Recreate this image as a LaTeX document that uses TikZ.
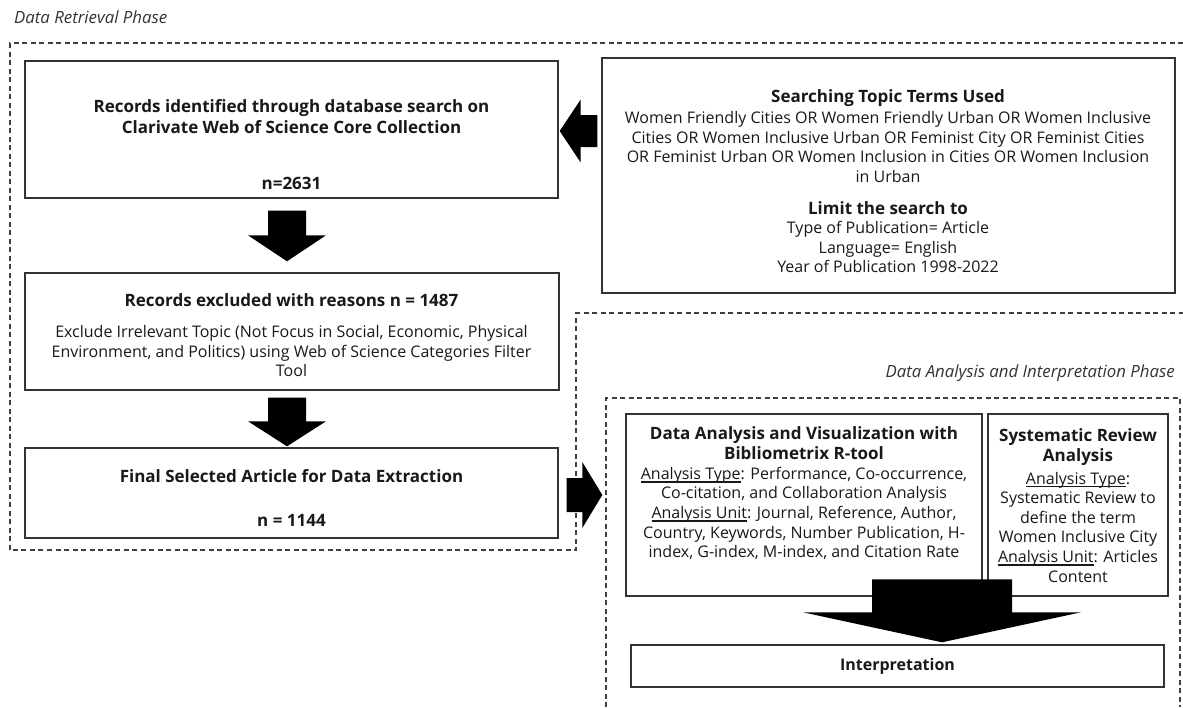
\documentclass[tikz,border=0pt]{standalone}
\usepackage{fontspec}
\setmainfont{Open Sans}
\usetikzlibrary{calc}

% heavy underline for the "Analysis ..." captions
\newsavebox{\ulbox}
\newcommand{\heavyul}[1]{\sbox{\ulbox}{#1}\rlap{\rule[-3.2pt]{\wd\ulbox}{1.5pt}}\usebox{\ulbox}}

\tikzset{
  phase/.style={draw=black!75, line width=1.1pt, dash pattern=on 5pt off 3.5pt},
  box/.style={draw=black!80, line width=1.4pt, fill=white, inner sep=0pt},
  txt/.style={text=black!90, inner sep=0pt, align=center},
  body/.style={txt, font=\fontsize{16}{19.6}\selectfont},
  head/.style={txt, font=\bfseries\fontsize{17}{20.5}\selectfont},
  blockarrow/.style={fill=black, draw=none},
  phaselabel/.style={text=black!80, inner sep=0pt, font=\itshape\fontsize{16.8}{18}\selectfont},
}

\begin{document}
\begin{tikzpicture}[x=1pt, y=-1pt]
\useasboundingbox (0,0) rectangle (1183,707);

% phase outlines
\draw[phase] (1183,43) -- (10,43) -- (10,550) -- (576,550) -- (576,313) -- (1183,313);
\draw[phase] (606,707) -- (606,398) -- (1180,398) -- (1180,707);

\node[phaselabel, anchor=west] (lblret) at (14,17) {Data Retrieval Phase};
\node[phaselabel, anchor=east] (lblana) at (1175,373) {Data Analysis and Interpretation Phase};

% retrieval boxes
\node[box, minimum width=533, minimum height=137] (rid) at (291.5,129.5) {};
\node[box, minimum width=573, minimum height=235] (search) at (888.5,175.5) {};
\node[box, minimum width=534, minimum height=117] (rex) at (292,331.5) {};
\node[box, minimum width=533, minimum height=90] (final) at (291.5,493) {};

% analysis boxes
\node[box, minimum width=356, minimum height=182] (ana) at (804,505) {};
\node[box, minimum width=180, minimum height=182] (sys) at (1078,505) {};
\node[box, minimum width=533, minimum height=42] (interp) at (897.5,666) {};

% texts
\node[head] (ridt) at (291.5,116.5) {Records identified through database search on\\Clarivate Web of Science Core Collection};
\node[head] (ridn) at (291.5,183) {n=2631};

\node[head] (srt) at (888,98) {Searching Topic Terms Used};
\node[body] (srb) at (888,147) {Women Friendly Cities OR Women Friendly Urban OR Women Inclusive\\
Cities OR Women Inclusive Urban OR Feminist City OR Feminist Cities\\
OR Feminist Urban OR Women Inclusion in Cities OR Women Inclusion\\
in Urban};
\node[head] (slt) at (888,208) {Limit the search to};
\node[body] (slb) at (888,247) {Type of Publication= Article\\Language= English\\Year of Publication 1998-2022};

\node[head] (rext) at (291.5,300) {Records excluded with reasons n = 1487};
\node[body] (rexb) at (291.5,351) {Exclude Irrelevant Topic (Not Focus in Social, Economic, Physical\\
Environment, and Politics) using Web of Science Categories Filter\\Tool};

\node[head] (fint) at (291.5,476) {Final Selected Article for Data Extraction};
\node[head] (finn) at (291.5,520) {n = 1144};

\node[head] (anat) at (804,443) {Data Analysis and Visualization with\\Bibliometrix R-tool};
\node[body] (anab) at (804,513.5) {\heavyul{Analysis Type}: Performance, Co-occurrence,\\
Co-citation, and Collaboration Analysis\\
\heavyul{Analysis Unit}: Journal, Reference, Author,\\
Country, Keywords, Number Publication, H-\\
index, G-index, M-index, and Citation Rate};

\node[head] (syst) at (1078,447) {Systematic Review\\Analysis};
\node[body] (sysb) at (1078,527) {\heavyul{Analysis Type}:\\Systematic Review to\\define the term\\Women Inclusive City\\
\heavyul{Analysis Unit}: Articles\\Content};

\node[head, font=\bfseries\fontsize{16}{20}\selectfont] (intt) at (interp.center) {Interpretation};

% block arrows
\coordinate (a1s) at ($(rid.south)+(-4.5,12)$);
\coordinate (a1t) at ($(rex.north)+(-5,-11)$);
\fill[blockarrow] let \p1=(a1s), \p2=(a1t) in
  (\x1-19,\y1) -- (\x1+19,\y1) -- (\x1+19,\y2+26) -- (\x1+39,\y2+26) -- (\x1,\y2)
  -- (\x1-39,\y2+26) -- (\x1-19,\y2+26) -- cycle;

\coordinate (a2s) at ($(rex.south)+(-5,7)$);
\coordinate (a2t) at ($(final.north)+(-4.5,-1)$);
\fill[blockarrow] let \p1=(a2s), \p2=(a2t) in
  (\x1-19,\y1) -- (\x1+19,\y1) -- (\x1+19,\y2+25) -- (\x1+39,\y2+25) -- (\x1,\y2)
  -- (\x1-39,\y2+25) -- (\x1-19,\y2+25) -- cycle;

\coordinate (a3s) at ($(search.west)+(-4,-44.5)$);
\coordinate (a3t) at ($(rid.east)+(1,1.5)$);
\fill[blockarrow] let \p1=(a3s), \p2=(a3t) in
  (\x1,\y1+16) -- (\x1,\y1-16) -- (\x2+21,\y1-16) -- (\x2+21,\y1-31.5) -- (\x2,\y1)
  -- (\x2+21,\y1+31.5) -- (\x2+21,\y1+16) -- cycle;

\coordinate (a4s) at ($(final.east)+(8,2)$);
\coordinate (a4t) at ($(ana.west)+(-23,-10)$);
\fill[blockarrow] let \p1=(a4s), \p2=(a4t) in
  (\x1,\y1+17) -- (\x1,\y1-17) -- (\x2-20,\y1-17) -- (\x2-20,\y1-33) -- (\x2,\y1)
  -- (\x2-20,\y1+33) -- (\x2-20,\y1+17) -- cycle;

\coordinate (a5s) at ($(interp.north)+(44.5,-65)$);
\coordinate (a5t) at ($(interp.north)+(44.5,-2)$);
\fill[blockarrow] let \p1=(a5s), \p2=(a5t) in
  (\x1-70,\y1) -- (\x1+70,\y1) -- (\x1+70,\y2+30) -- (\x1+139,\y2+30) -- (\x1,\y2)
  -- (\x1-139,\y2+30) -- (\x1-70,\y2+30) -- cycle;
\end{tikzpicture}
\end{document}
